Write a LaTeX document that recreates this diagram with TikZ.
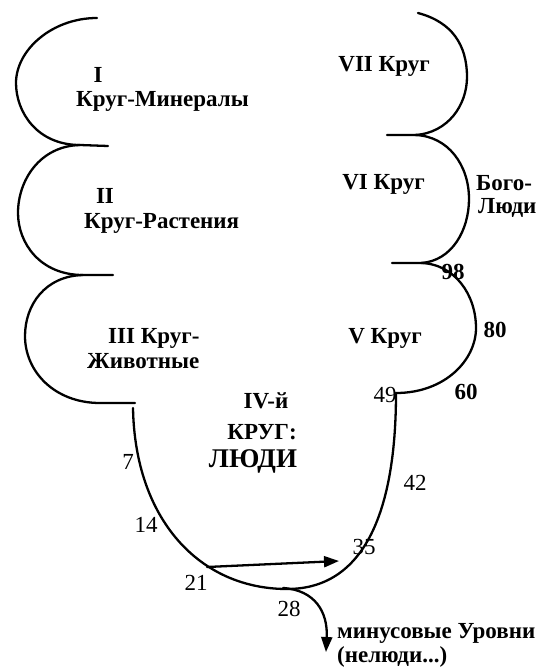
\documentclass[tikz,border=0pt]{standalone}
\usepackage{fontspec}
\setmainfont{Liberation Serif}
\usetikzlibrary{arrows.meta}
\begin{document}
\begin{tikzpicture}[x=1pt,y=-1pt,
  curve/.style={line width=2.3pt,line cap=round},
  lbl/.style={font=\fontsize{23}{25}\selectfont\bfseries,inner sep=0pt},
  num/.style={font=\fontsize{23}{25}\selectfont,inner sep=0pt},
  bnum/.style={font=\fontsize{23}{25}\selectfont\bfseries,inner sep=0pt},
  tip/.style={-{Triangle[length=15pt,width=11pt]}}]
\useasboundingbox (0,0) rectangle (547,671);
% key points
\coordinate (top1) at (97,18);
\coordinate (c12) at (80,145);
\coordinate (c23) at (83,275);
\coordinate (e3) at (100,403);
\coordinate (t3) at (135,403);
\coordinate (s4) at (133,408);
\coordinate (b4) at (287,589);
\coordinate (j45) at (396,393);
\coordinate (c56) at (421,263);
\coordinate (c67) at (415,135);
\coordinate (top7) at (418,13);
\coordinate (a21) at (207,567);
\coordinate (a35) at (339,561);
\coordinate (b28) at (283,588);
\coordinate (down) at (326,652);
% left scallops
\draw[curve] (top1) .. controls (52,18) and (16,50) .. (16,83)
  .. controls (16,112) and (37,145) .. (c12) -- (108,146);
\draw[curve] (c12) .. controls (40,146) and (18,180) .. (18,213)
  .. controls (18,243) and (40,275) .. (c23) -- (113,275);
\draw[curve] (c23) .. controls (45,276) and (25,305) .. (25,336)
  .. controls (25,372) and (55,403) .. (e3) -- (t3);
% fourth round
\draw[curve] (s4) .. controls (135,520) and (200,589) .. (b4)
  .. controls (370,589) and (396,500) .. (j45);
% right scallops
\draw[curve] (j45) .. controls (445,393) and (476,360) .. (476,328)
  .. controls (476,295) and (455,264) .. (c56) -- (392,263);
\draw[curve] (c56) .. controls (452,261) and (469,230) .. (469,199)
  .. controls (469,165) and (448,136) .. (c67) -- (387,135);
\draw[curve] (c67) .. controls (448,133) and (467,105) .. (467,77)
  .. controls (467,45) and (452,22) .. (top7);
% arrows
\draw[curve,tip] (a21) -- (a35);
\draw[curve,tip] (b28) .. controls (315,590) and (328,612) .. (down);
% labels
\node[lbl] (l1a) at (98,75) {I};
\node[lbl,anchor=west] (l1b) at (76,101) {Круг-Минералы};
\node[lbl] (l2a) at (105,196) {II};
\node[lbl,anchor=west] (l2b) at (84,223) {Круг-Растения};
\node[lbl,anchor=west] (l3a) at (108,338) {III Круг-};
\node[lbl,anchor=west] (l3b) at (87,361) {Животные};
\node[lbl,anchor=east] (l7) at (430,66) {VII Круг};
\node[lbl,anchor=east] (l6) at (425,184) {VI Круг};
\node[lbl,anchor=east] (l5) at (422,338) {V Круг};
\node[lbl,anchor=west] (bg1) at (476,183) {Бого-};
\node[lbl,anchor=west] (bg2) at (478,208) {Люди};
\node[lbl] (l4a) at (266,401) {IV-й};
\node[lbl] (l4b) at (262,432) {КРУГ:};
\node[lbl,font=\fontsize{27}{29}\selectfont\bfseries] (l4c) at (253,461) {ЛЮДИ};
\node[bnum] (n98) at (453,272) {98};
\node[bnum] (n80) at (495,330) {80};
\node[bnum] (n60) at (466,392) {60};
\node[num] (n49) at (385,395) {49};
\node[num] (n42) at (415,483) {42};
\node[num] (n7) at (128,462) {7};
\node[num] (n14) at (146,525) {14};
\node[num] (n21) at (196,583) {21};
\node[num] (n28) at (289,609) {28};
\node[num] (n35) at (364,547) {35};
\node[lbl,anchor=west] (m1) at (337,633) {минусовые Уровни};
\node[lbl,anchor=west] (m2) at (337,657) {(нелюди...)};
\end{tikzpicture}
\end{document}
